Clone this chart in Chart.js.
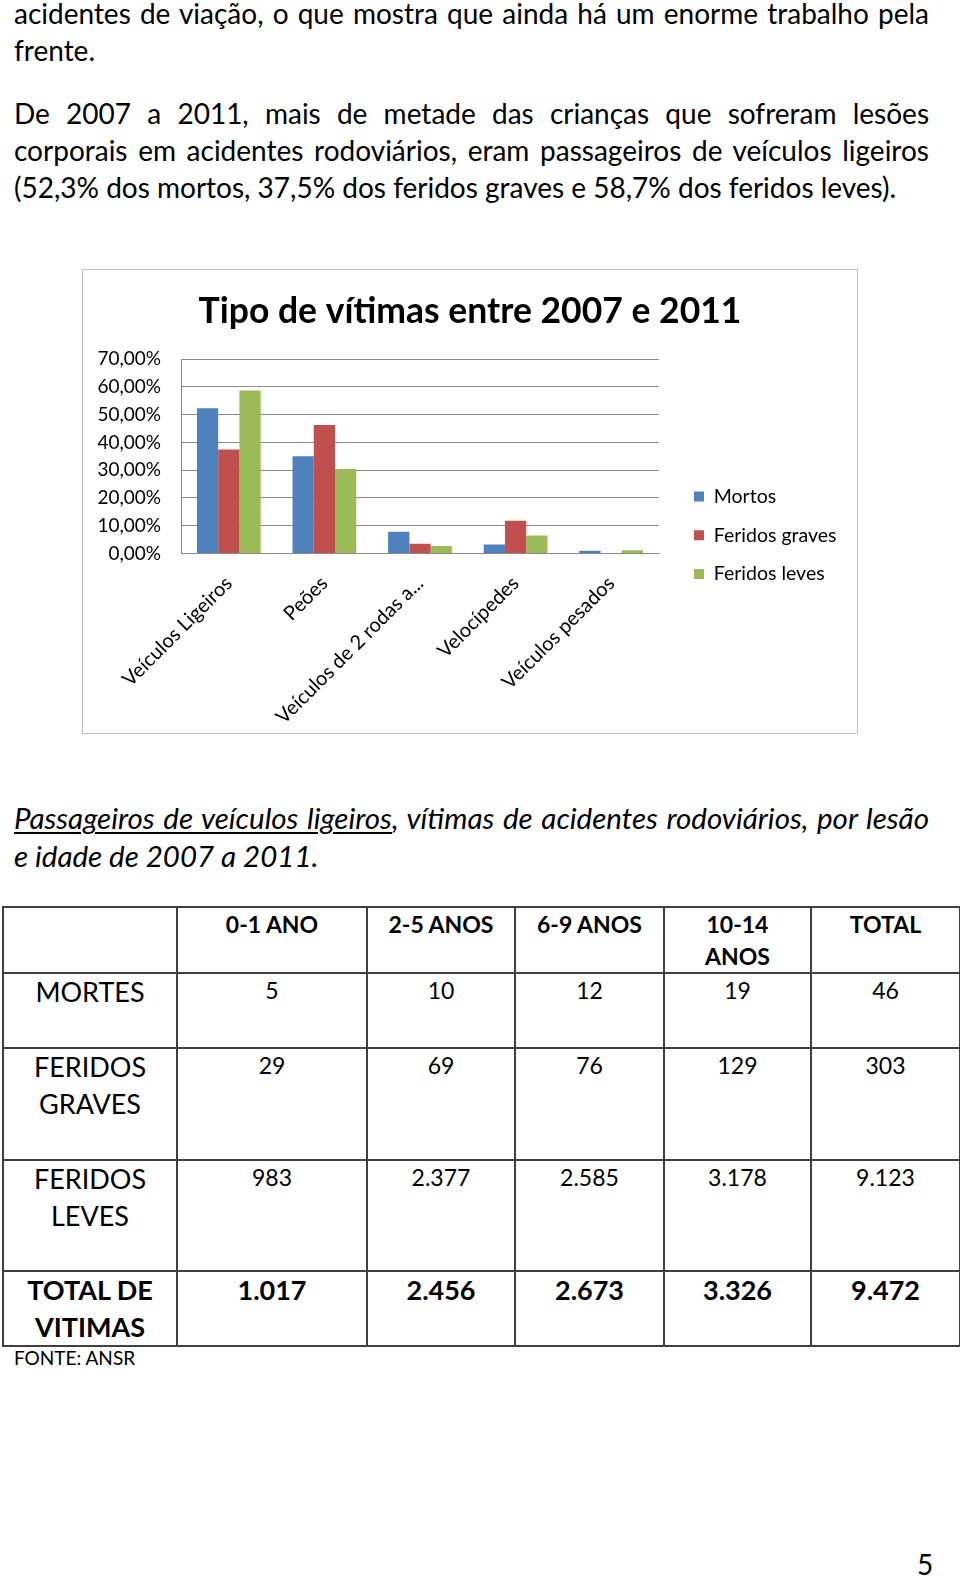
<!DOCTYPE html>
<html lang="pt">
<head>
<meta charset="utf-8">
<script src="https://cdn.jsdelivr.net/npm/chart.js@4.4.1/dist/chart.umd.min.js"></script>
<style>
  html, body { margin: 0; padding: 0; background: #fff; }
  body { width: 960px; height: 1577px; position: relative; overflow: hidden; font-family: Lato, sans-serif; color: #000; }
  .ln { position: absolute; left: 14px; width: 915px; font-size: 28px; line-height: 37px; white-space: nowrap; }
  .just { text-align: justify; text-align-last: justify; white-space: normal; }
  .cap { font-style: italic; font-size: 29.5px; }
  .cap u { text-decoration-thickness: 1.5px; text-underline-offset: 3px; }
  #chartBox { position: absolute; left: 82px; top: 269px; width: 776px; height: 465px; border: 1px solid #bfbfbf; box-sizing: border-box; }
  #chartBox canvas { display: block; }
  table { position: absolute; left: 2px; top: 906px; border-collapse: collapse; table-layout: fixed; width: 957px; }
  td { border: 2px solid #404040; vertical-align: top; text-align: center; padding: 0; }
  .hd { font-weight: bold; font-size: 23px; line-height: 32px; }
  .lab { font-size: 27px; line-height: 36.5px; }
  .val { font-size: 23px; line-height: 28px; padding-top: 2px; }
  .tot { font-weight: bold; font-size: 27px; line-height: 36.5px; }
  #fonte { position: absolute; left: 14px; top: 1346px; font-size: 19px; line-height: 23px; }
  #pg { position: absolute; left: 917px; top: 1546px; font-size: 28px; line-height: 37px; }
</style>
</head>
<body>
<div class="ln just" style="top:-5px">acidentes de viação, o que mostra que ainda há um enorme trabalho pela</div>
<div class="ln" style="top:32px">frente.</div>
<div class="ln just" style="top:95px">De 2007 a 2011, mais de metade das crianças que sofreram lesões</div>
<div class="ln just" style="top:132px">corporais em acidentes rodoviários, eram passageiros de veículos ligeiros</div>
<div class="ln" style="top:169px">(52,3% dos mortos, 37,5% dos feridos graves e 58,7% dos feridos leves).</div>

<div id="chartBox"><canvas id="chart" width="774" height="463"></canvas></div>

<div class="ln just cap" style="top:799px"><u>Passageiros de veículos ligeiros</u>, vítimas de acidentes rodoviários, por lesão</div>
<div class="ln cap" style="top:837px">e idade de 2007 a 2011.</div>

<table id="tbl">
  <colgroup>
    <col style="width:174px"><col style="width:190px"><col style="width:148px"><col style="width:149px"><col style="width:147px"><col style="width:149px">
  </colgroup>
  <tbody id="tbody"></tbody>
</table>
<div id="fonte">FONTE: ANSR</div>
<div id="pg">5</div>

<script>
// ---- Chart data ----
const categories = ['Veículos Ligeiros', 'Peões', 'Veículos de 2 rodas a...', 'Velocípedes', 'Veículos pesados'];
const seriesNames = ['Mortos', 'Feridos graves', 'Feridos leves'];
const mortos = [52.3, 35.0, 7.8, 3.2, 1.0];
const feridosGraves = [37.5, 46.3, 3.5, 11.8, 0.2];
const feridosLeves = [58.7, 30.4, 2.7, 6.5, 1.2];
const yTickLabels = ['0,00%', '10,00%', '20,00%', '30,00%', '40,00%', '50,00%', '60,00%', '70,00%'];
const chartTitle = 'Tipo de vítimas entre 2007 e 2011';

// ---- Table data ----
const tableHeader = ['', '0-1 ANO', '2-5 ANOS', '6-9 ANOS', '10-14<br>ANOS', 'TOTAL'];
const rowLabels = ['MORTES', 'FERIDOS<br>GRAVES', 'FERIDOS<br>LEVES', 'TOTAL DE<br>VITIMAS'];
const rowMortes = ['5', '10', '12', '19', '46'];
const rowGraves = ['29', '69', '76', '129', '303'];
const rowLeves = ['983', '2.377', '2.585', '3.178', '9.123'];
const rowTotal = ['1.017', '2.456', '2.673', '3.326', '9.472'];

// build table
(function () {
  const tb = document.getElementById('tbody');
  const heights = [64, 75, 112, 111, 75];
  let html = '<tr style="height:' + heights[0] + 'px">' + tableHeader.map(h => '<td class="hd">' + h + '</td>').join('') + '</tr>';
  const rows = [rowMortes, rowGraves, rowLeves, rowTotal];
  rows.forEach((r, i) => {
    const isTot = i === 3;
    html += '<tr style="height:' + heights[i + 1] + 'px"><td class="' + (isTot ? 'tot' : 'lab') + '">' + rowLabels[i] + '</td>' +
      r.map(v => '<td class="' + (isTot ? 'tot' : 'val') + '">' + v + '</td>').join('') + '</tr>';
  });
  tb.innerHTML = html;
})();

const FONT = 'Lato';
const gridGray = '#8a8a8a';
const RIGHT_PAD = 30;         // room reserved on the right (legend is capped to the rest)
const PLOT_LEFT = 98;         // left edge of the plot inside the canvas
const PLOT_RIGHT = 576;       // right edge of the plot inside the canvas
const LEGEND_X = 611;         // left edge of the legend swatches inside the canvas
const LEGEND_PAD = 19.2;

// keep the title centred on the whole canvas and place the legend column
const layoutTweak = {
  id: 'layoutTweak',
  afterLayout(chart) {
    const tb = chart.titleBlock;
    if (tb) { tb.left = 0; tb.right = chart.width; tb.width = chart.width; }
    const lg = chart.legend;
    if (lg) {
      const dx = LEGEND_X - (lg.left + LEGEND_PAD);
      lg.left += dx;
      lg.right = chart.width;
      lg.width = lg.right - lg.left;
    }
  }
};

const canvas = document.getElementById('chart');
new Chart(canvas, {
  type: 'bar',
  plugins: [layoutTweak],
  data: {
    labels: categories,
    datasets: [
      { label: seriesNames[0], data: mortos, backgroundColor: '#4F81BD' },
      { label: seriesNames[1], data: feridosGraves, backgroundColor: '#C0504D' },
      { label: seriesNames[2], data: feridosLeves, backgroundColor: '#9BBB59' }
    ]
  },
  options: {
    responsive: false,
    animation: false,
    devicePixelRatio: 1,
    categoryPercentage: 0.667,
    barPercentage: 1.0,
    layout: { padding: { left: 0, right: RIGHT_PAD, top: 0, bottom: 0 } },
    plugins: {
      title: {
        display: true, text: chartTitle, color: '#000',
        font: { family: FONT, size: 35.5, weight: 'bold' },
        padding: { top: 20, bottom: 26.6 }
      },
      legend: {
        position: 'right', align: 'center',
        maxWidth: canvas.width - RIGHT_PAD - PLOT_RIGHT,
        title: { display: true, text: '', font: { size: 1 }, padding: { top: 66.4, bottom: 0 } },
        labels: { boxWidth: 10, boxHeight: 10, padding: LEGEND_PAD, color: '#000', font: { family: FONT, size: 19.5 } }
      },
      tooltip: { enabled: false }
    },
    scales: {
      x: {
        grid: { display: false, drawTicks: false },
        border: { display: true, color: gridGray, width: 1 },
        ticks: { autoSkip: false, minRotation: 45, maxRotation: 45, padding: 18, color: '#000', font: { family: FONT, size: 20 } },
        afterFit(s) { s.height = 179.5; }
      },
      y: {
        min: 0, max: 70,
        grid: { color: gridGray, drawTicks: false },
        border: { display: true, color: gridGray, width: 1 },
        ticks: { stepSize: 10, padding: 20, color: '#000', font: { family: FONT, size: 19 },
          callback: (v, i) => yTickLabels[i] },
        afterFit(s) { s.width = PLOT_LEFT; }
      }
    }
  }
});
</script>
</body>
</html>
